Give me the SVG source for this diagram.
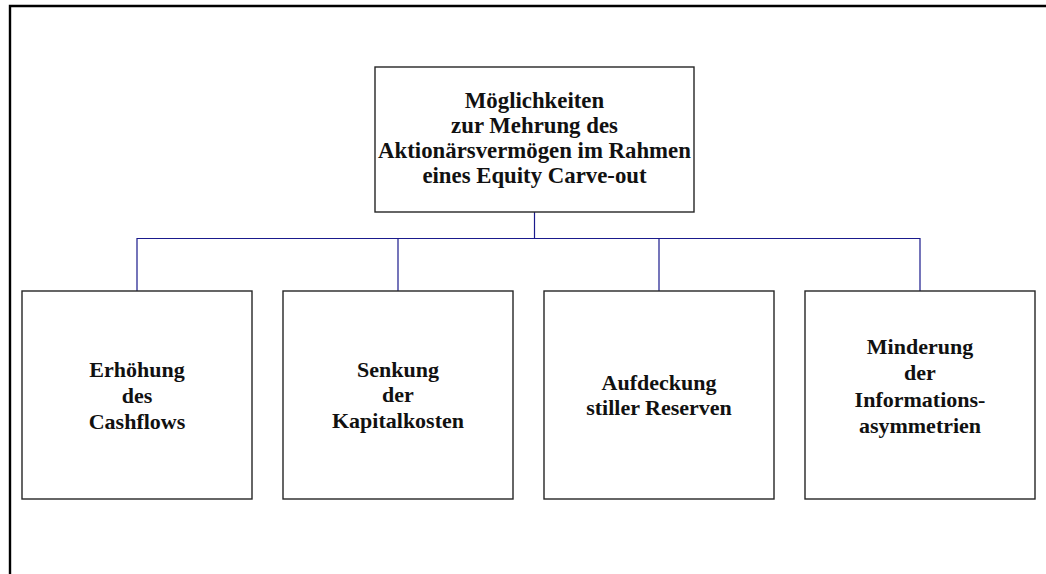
<svg xmlns="http://www.w3.org/2000/svg" width="1046" height="574" viewBox="0 0 1046 574">
  <style>
    .frame { fill: none; stroke: #000; stroke-width: 2.4; }
    .box { fill: #fff; stroke: #262626; stroke-width: 1.4; }
    .link { fill: none; stroke: #1a1a8c; stroke-width: 1.2; }
    .label { font-family: "Liberation Serif", "Times New Roman", serif; font-weight: bold; font-size: 22px; fill: #111; text-anchor: middle; }
    .title { font-size: 22.8px; }
  </style>
  <rect width="1046" height="574" fill="#fff"/>
  <!-- outer page frame (open on right and bottom) -->
  <path class="frame" d="M10,580 V6 H1050"/>

  <!-- connectors -->
  <g id="connectors">
    <path class="link" d="M534.5,212 V238.5"/>
    <path class="link" d="M137,291 V238.5 H920 V291"/>
    <path class="link" d="M398,238.5 V291"/>
    <path class="link" d="M659,238.5 V291"/>
  </g>

  <g id="root">
    <rect class="box" x="375" y="67" width="319" height="145"/>
    <text class="label title" x="534.5" y="108">Möglichkeiten</text>
    <text class="label title" x="534.5" y="133">zur Mehrung des</text>
    <text class="label title" x="534.5" y="158">Aktionärsvermögen im Rahmen</text>
    <text class="label title" x="534.5" y="183">eines Equity Carve-out</text>
  </g>

  <g id="cashflow">
    <rect class="box" x="22" y="291" width="230" height="208"/>
    <text class="label" x="137" y="377">Erhöhung</text>
    <text class="label" x="137" y="403">des</text>
    <text class="label" x="137" y="429">Cashflows</text>
  </g>

  <g id="kapitalkosten">
    <rect class="box" x="283" y="291" width="230" height="208"/>
    <text class="label" x="398" y="377">Senkung</text>
    <text class="label" x="398" y="402">der</text>
    <text class="label" x="398" y="428">Kapitalkosten</text>
  </g>

  <g id="reserven">
    <rect class="box" x="544" y="291" width="230" height="208"/>
    <text class="label" x="659" y="390">Aufdeckung</text>
    <text class="label" x="659" y="415">stiller Reserven</text>
  </g>

  <g id="informationsasymmetrien">
    <rect class="box" x="805" y="291" width="230" height="208"/>
    <text class="label" x="920" y="354">Minderung</text>
    <text class="label" x="920" y="380">der</text>
    <text class="label" x="920" y="407">Informations-</text>
    <text class="label" x="920" y="433">asymmetrien</text>
  </g>
</svg>
